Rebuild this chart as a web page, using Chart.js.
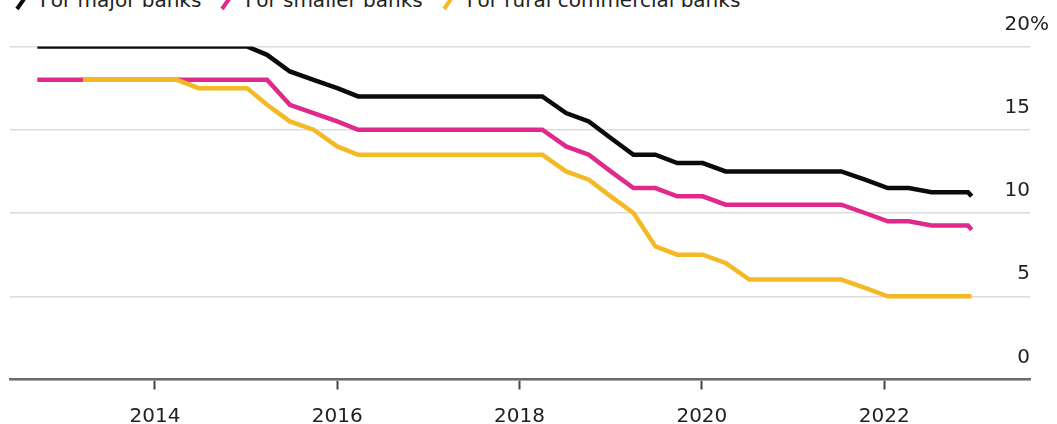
<!DOCTYPE html>
<html>
<head>
<meta charset="utf-8">
<script src="https://cdn.jsdelivr.net/npm/chart.js@4/dist/chart.umd.min.js"></script>
<style>
  html, body { margin: 0; padding: 0; background: #fff; overflow: hidden; }
  #wrap { position: relative; width: 1057px; height: 424px; overflow: hidden; }
  #chart { position: absolute; left: 0; top: 0; }
  #legend {
    position: absolute; left: 12px; top: -12px;
    display: flex; align-items: baseline;
    font: 20px/24px "DejaVu Sans", sans-serif; color: #222; white-space: nowrap;
  }
  #legend .item { display: flex; align-items: baseline; margin-right: 16px; }
  #legend .mark {
    display: inline-block; width: 4px; height: 15px; margin: 0 21px 0 3px;
    transform: rotate(35deg); transform-origin: 50% 100%; position: relative; top: 2px;
  }
</style>
</head>
<body>
<div id="wrap">
  <div id="legend"></div>
  <canvas id="chart" width="1057" height="424"></canvas>
</div>
<script>
// reserve requirement ratio, % (dates as decimal years)
const tickYears = [2014, 2016, 2018, 2020, 2022];
const pctTicks = [0, 5, 10, 15, 20];

const dates = [2012.71, 2013.21, 2014.24, 2014.48, 2015.01, 2015.23, 2015.48, 2015.74, 2016.0, 2016.23,
  2018.25, 2018.51, 2018.76, 2019.0, 2019.25, 2019.49, 2019.73, 2020.01, 2020.26, 2020.52,
  2021.53, 2021.79, 2022.04, 2022.27, 2022.52, 2022.92, 2022.96];

const majorBanks = [20, 20, 20, 20, 20, 19.5, 18.5, 18, 17.5, 17,
  17, 16, 15.5, 14.5, 13.5, 13.5, 13, 13, 12.5, 12.5,
  12.5, 12, 11.5, 11.5, 11.25, 11.25, 11];

const smallerBanks = [18, 18, 18, 18, 18, 18, 16.5, 16, 15.5, 15,
  15, 14, 13.5, 12.5, 11.5, 11.5, 11, 11, 10.5, 10.5,
  10.5, 10, 9.5, 9.5, 9.25, 9.25, 9];

const ruralBanks = [null, 18, 18, 17.5, 17.5, 16.5, 15.5, 15, 14, 13.5,
  13.5, 12.5, 12, 11, 10, 8, 7.5, 7.5, 7, 6,
  6, 5.5, 5, 5, 5, 5, 5];

const toPoints = vals => dates.map((d, i) => ({ x: d, y: vals[i] }));

Chart.defaults.font.family = '"DejaVu Sans", sans-serif';
Chart.defaults.color = '#222';

const lineStyle = { borderWidth: 4.5, pointRadius: 0, tension: 0, borderJoinStyle: 'miter', fill: false };

const chart = new Chart(document.getElementById('chart'), {
  type: 'line',
  data: {
    datasets: [
      { label: 'For major banks', data: toPoints(majorBanks), borderColor: '#0b0b0b', order: 0, ...lineStyle },
      { label: 'For smaller banks', data: toPoints(smallerBanks), borderColor: '#e0298c', order: 1, ...lineStyle },
      { label: 'For rural commercial banks', data: toPoints(ruralBanks), borderColor: '#f3ba26', order: 0, ...lineStyle }
    ]
  },
  options: {
    responsive: false,
    animation: false,
    layout: { padding: { top: 46.5, left: 10, right: 27, bottom: 0 } },
    plugins: { legend: { display: false }, tooltip: { enabled: false } },
    scales: {
      x: {
        type: 'linear',
        min: 2012.41,
        max: 2023.6,
        afterBuildTicks: s => { s.ticks = tickYears.map(v => ({ value: v })); },
        afterFit: s => { s.height = 44.5; },
        grid: { drawOnChartArea: false, drawTicks: true, tickLength: 10, tickColor: '#444', tickWidth: 2 },
        border: { color: '#6b6b6b', width: 2.5 },
        ticks: { font: { size: 20 }, color: '#222', padding: 15, maxRotation: 0, callback: v => String(v) }
      },
      y: {
        position: 'right',
        min: 0,
        max: 20,
        afterBuildTicks: s => { s.ticks = pctTicks.map(v => ({ value: v })); },
        afterFit: s => { s.width = 0; },
        grid: { color: '#dcdcdc', lineWidth: 1.5, drawTicks: false },
        border: { display: false },
        ticks: {
          mirror: true,
          crossAlign: 'far',
          font: { size: 20 },
          color: '#222',
          padding: 19,
          labelOffset: -22,
          callback: v => v === 20 ? '20%' : (v < 10 ? '  ' + v : String(v))
        }
      }
    }
  }
});

// legend built from the datasets
const legendEl = document.getElementById('legend');
chart.data.datasets.forEach(ds => {
  const item = document.createElement('span');
  item.className = 'item';
  const mark = document.createElement('span');
  mark.className = 'mark';
  mark.style.background = ds.borderColor;
  item.appendChild(mark);
  item.appendChild(document.createTextNode(ds.label));
  legendEl.appendChild(item);
});
</script>
</body>
</html>
